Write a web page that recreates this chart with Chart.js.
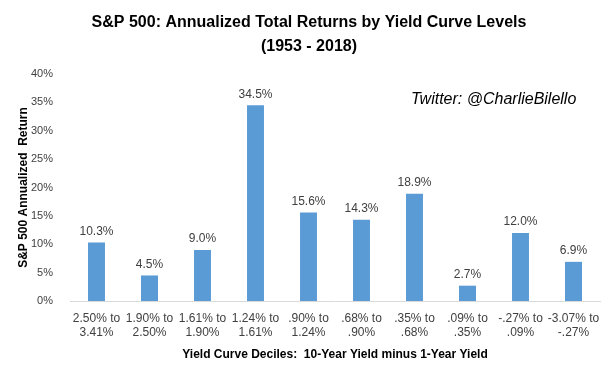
<!DOCTYPE html>
<html>
<head>
<meta charset="utf-8">
<script src="https://cdn.jsdelivr.net/npm/chart.js@4"></script>
<style>
  html, body { margin: 0; padding: 0; background: #fff; }
  #wrap { width: 614px; height: 374px; position: relative; }
</style>
</head>
<body>
<div id="wrap"><canvas id="chart"></canvas></div>
<script>
// Yield curve decile buckets (10Y minus 1Y)
const categories = [
    ['2.50% to', '3.41%'], ['1.90% to', '2.50%'], ['1.61% to', '1.90%'],
    ['1.24% to', '1.61%'], ['.90% to', '1.24%'], ['.68% to', '.90%'],
    ['.35% to', '.68%'], ['.09% to', '.35%'], ['-.27% to', '.09%'],
    ['-3.07% to', '-.27%']
];
const annualizedReturns = [10.3, 4.5, 9.0, 34.5, 15.6, 14.3, 18.9, 2.7, 12.0, 6.9];
const yTicks = [0, 5, 10, 15, 20, 25, 30, 35, 40];

const titleLines = ['S&P 500: Annualized Total Returns by Yield Curve Levels', '(1953 - 2018)'];
const credit = 'Twitter: @CharlieBilello';

const FONT = "'Liberation Sans', Arial, sans-serif";

const overlayPlugin = {
    id: 'overlay',
    afterDatasetsDraw(chart) {
        const ctx = chart.ctx;
        ctx.save();
        // value labels above bars
        const meta = chart.getDatasetMeta(0);
        ctx.fillStyle = '#404040';
        ctx.font = '12px ' + FONT;
        ctx.textAlign = 'center';
        ctx.textBaseline = 'bottom';
        meta.data.forEach((bar, i) => {
            ctx.fillText(annualizedReturns[i].toFixed(1) + '%', bar.x, bar.y - 5);
        });
        // title
        ctx.fillStyle = '#000';
        ctx.font = 'bold 16px ' + FONT;
        ctx.textBaseline = 'middle';
        ctx.fillText(titleLines[0], 309, 23);
        ctx.fillText(titleLines[1], 309, 47);
        // twitter credit
        ctx.font = 'italic 16px ' + FONT;
        ctx.textAlign = 'left';
        ctx.fillText(credit, 411, 100);
        ctx.restore();
    }
};

const ctx = document.getElementById('chart').getContext('2d');
new Chart(ctx, {
    type: 'bar',
    data: {
        labels: categories,
        datasets: [{
            data: annualizedReturns,
            backgroundColor: '#5B9BD5',
            barPercentage: 0.64,
            categoryPercentage: 0.5
        }]
    },
    options: {
        responsive: true,
        maintainAspectRatio: false,
        animation: false,
        layout: { padding: { top: 74, right: 14, bottom: 12, left: 16 } },
        plugins: {
            legend: { display: false },
            tooltip: { enabled: false }
        },
        scales: {
            x: {
                grid: { display: false },
                border: { display: true, color: '#d9d9d9', width: 1 },
                ticks: {
                    color: '#404040',
                    font: { size: 12, family: FONT, lineHeight: 1.15 },
                    maxRotation: 0,
                    autoSkip: false,
                    padding: 3
                },
                title: {
                    display: true,
                    text: 'Yield Curve Deciles:  10-Year Yield minus 1-Year Yield',
                    color: '#000',
                    font: { size: 12, weight: 'bold', family: FONT },
                    padding: { top: 5, bottom: 0 }
                }
            },
            y: {
                min: 0,
                max: 40,
                afterBuildTicks(axis) {
                    axis.ticks = yTicks.map(v => ({ value: v }));
                },
                afterFit(axis) { axis.width = 54; },
                grid: { display: false },
                border: { display: false },
                ticks: {
                    color: '#404040',
                    font: { size: 11, family: FONT },
                    padding: 9,
                    callback: v => v + '%'
                },
                title: {
                    display: true,
                    text: 'S&P 500 Annualized  Return',
                    color: '#000',
                    font: { size: 12, weight: 'bold', family: FONT },
                    padding: { top: 0, bottom: 0 }
                }
            }
        }
    },
    plugins: [overlayPlugin]
});
</script>
</body>
</html>
